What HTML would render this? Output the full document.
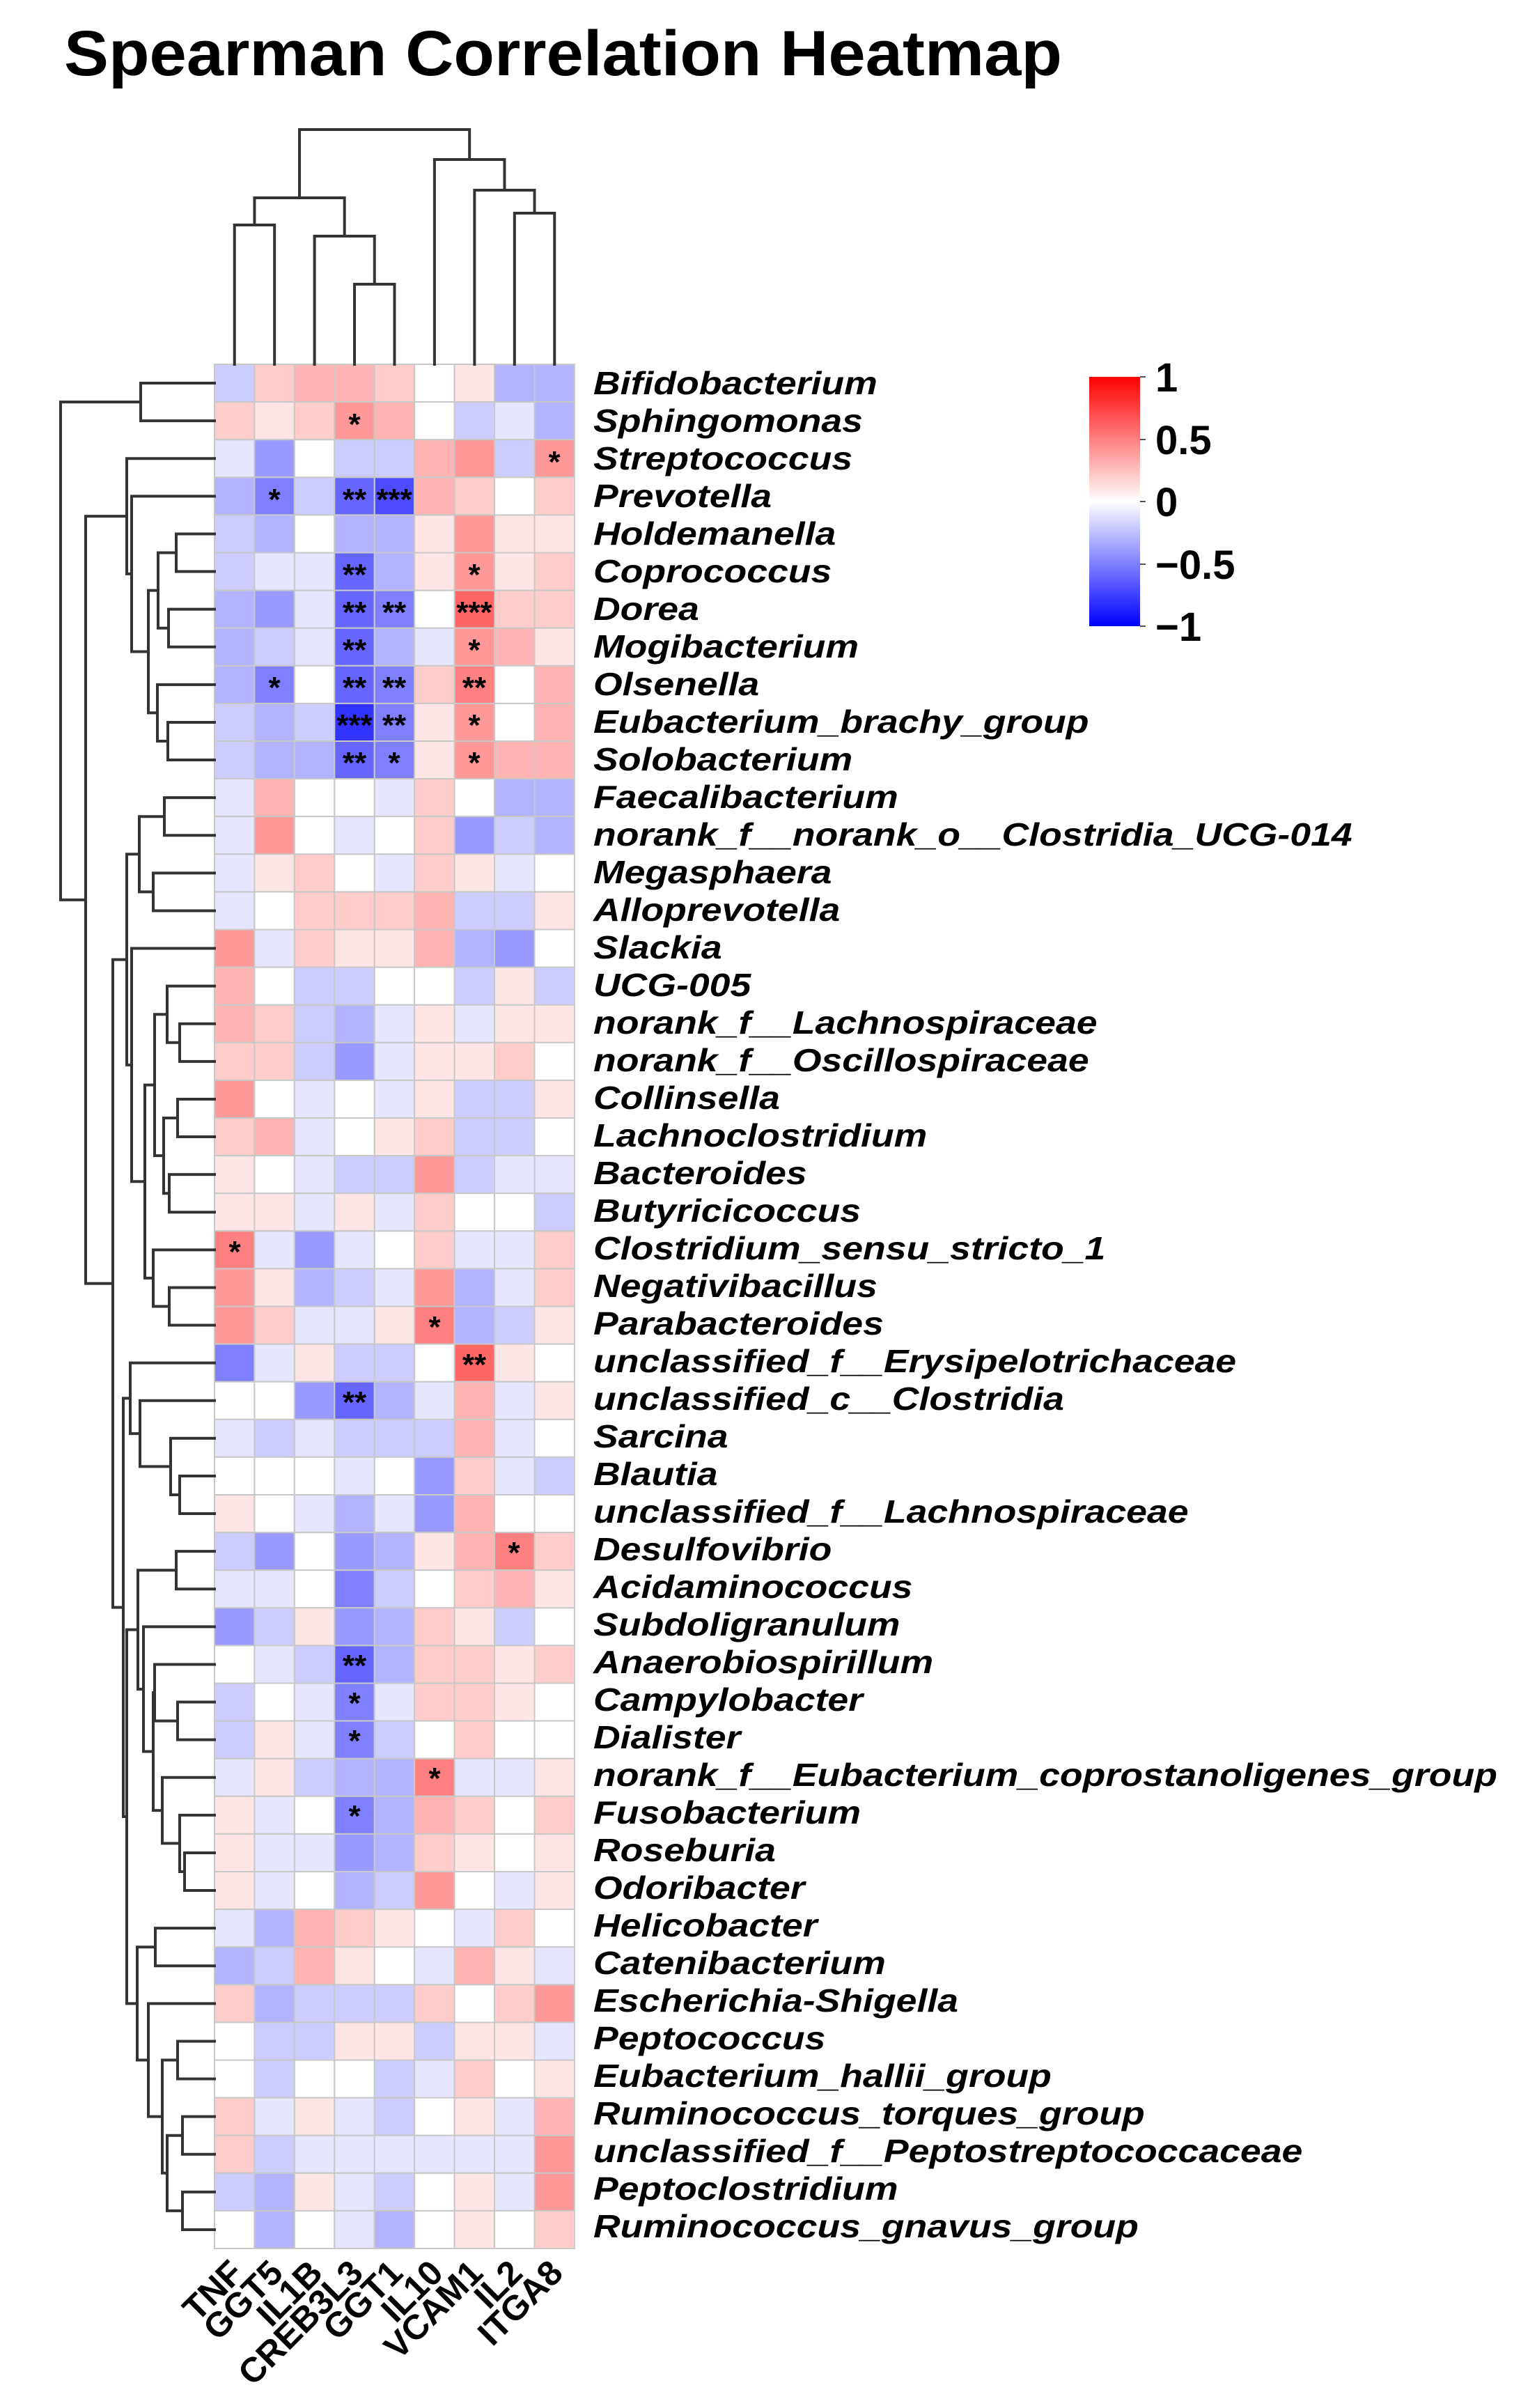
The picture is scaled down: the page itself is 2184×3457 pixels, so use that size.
<!DOCTYPE html>
<html><head><meta charset="utf-8">
<style>
html,body{margin:0;padding:0;background:#fff;}
svg{display:block;}
text{font-family:"Liberation Sans",Arial,sans-serif;}
.rl{font-size:46px;font-weight:bold;font-style:italic;fill:#000;}
.cl{font-size:50px;font-weight:bold;fill:#000;}
.st{font-size:44px;font-weight:bold;fill:#000;text-anchor:middle;}
.lg{font-size:58px;font-weight:bold;fill:#000;}
</style></head>
<body>
<svg id="s" width="2184" height="3457" viewBox="0 0 2184 3457" xmlns="http://www.w3.org/2000/svg">
<defs>
<linearGradient id="g" x1="0" y1="0" x2="0" y2="1">
<stop offset="0" stop-color="#ff0000"/><stop offset="0.5" stop-color="#ffffff"/><stop offset="1" stop-color="#0000ff"/>
</linearGradient>
</defs>
<text x="92" y="108" font-size="92" font-weight="bold" textLength="1433" lengthAdjust="spacingAndGlyphs">Spearman Correlation Heatmap</text>
<g id="cells"></g>
<g id="dend" stroke="#333" stroke-width="4" fill="none" stroke-linecap="square"></g>
<g id="labels" transform="translate(852,0) scale(1.165,1)">
<text class="rl" x="0" y="566">Bifidobacterium</text>
<text class="rl" x="0" y="620">Sphingomonas</text>
<text class="rl" x="0" y="674">Streptococcus</text>
<text class="rl" x="0" y="728">Prevotella</text>
<text class="rl" x="0" y="782">Holdemanella</text>
<text class="rl" x="0" y="836">Coprococcus</text>
<text class="rl" x="0" y="890">Dorea</text>
<text class="rl" x="0" y="944">Mogibacterium</text>
<text class="rl" x="0" y="998">Olsenella</text>
<text class="rl" x="0" y="1052">Eubacterium_brachy_group</text>
<text class="rl" x="0" y="1106">Solobacterium</text>
<text class="rl" x="0" y="1160">Faecalibacterium</text>
<text class="rl" x="0" y="1214">norank_f__norank_o__Clostridia_UCG-014</text>
<text class="rl" x="0" y="1268">Megasphaera</text>
<text class="rl" x="0" y="1322">Alloprevotella</text>
<text class="rl" x="0" y="1376">Slackia</text>
<text class="rl" x="0" y="1430">UCG-005</text>
<text class="rl" x="0" y="1484">norank_f__Lachnospiraceae</text>
<text class="rl" x="0" y="1538">norank_f__Oscillospiraceae</text>
<text class="rl" x="0" y="1592">Collinsella</text>
<text class="rl" x="0" y="1646">Lachnoclostridium</text>
<text class="rl" x="0" y="1700">Bacteroides</text>
<text class="rl" x="0" y="1754">Butyricicoccus</text>
<text class="rl" x="0" y="1808">Clostridium_sensu_stricto_1</text>
<text class="rl" x="0" y="1862">Negativibacillus</text>
<text class="rl" x="0" y="1916">Parabacteroides</text>
<text class="rl" x="0" y="1970">unclassified_f__Erysipelotrichaceae</text>
<text class="rl" x="0" y="2024">unclassified_c__Clostridia</text>
<text class="rl" x="0" y="2078">Sarcina</text>
<text class="rl" x="0" y="2132">Blautia</text>
<text class="rl" x="0" y="2186">unclassified_f__Lachnospiraceae</text>
<text class="rl" x="0" y="2240">Desulfovibrio</text>
<text class="rl" x="0" y="2294">Acidaminococcus</text>
<text class="rl" x="0" y="2348">Subdoligranulum</text>
<text class="rl" x="0" y="2402">Anaerobiospirillum</text>
<text class="rl" x="0" y="2456">Campylobacter</text>
<text class="rl" x="0" y="2510">Dialister</text>
<text class="rl" x="0" y="2564">norank_f__Eubacterium_coprostanoligenes_group</text>
<text class="rl" x="0" y="2618">Fusobacterium</text>
<text class="rl" x="0" y="2672">Roseburia</text>
<text class="rl" x="0" y="2726">Odoribacter</text>
<text class="rl" x="0" y="2780">Helicobacter</text>
<text class="rl" x="0" y="2834">Catenibacterium</text>
<text class="rl" x="0" y="2888">Escherichia-Shigella</text>
<text class="rl" x="0" y="2942">Peptococcus</text>
<text class="rl" x="0" y="2996">Eubacterium_hallii_group</text>
<text class="rl" x="0" y="3050">Ruminococcus_torques_group</text>
<text class="rl" x="0" y="3104">unclassified_f__Peptostreptococcaceae</text>
<text class="rl" x="0" y="3158">Peptoclostridium</text>
<text class="rl" x="0" y="3212">Ruminococcus_gnavus_group</text>
</g>
<g id="collabels">
<text class="cl" text-anchor="end" transform="translate(352,3266) rotate(-45)">TNF</text>
<text class="cl" text-anchor="end" transform="translate(409,3266) rotate(-45)">GGT5</text>
<text class="cl" text-anchor="end" transform="translate(466,3266) rotate(-45)">IL1B</text>
<text class="cl" text-anchor="end" transform="translate(524,3266) rotate(-45)">CREB3L3</text>
<text class="cl" text-anchor="end" transform="translate(581,3266) rotate(-45)">GGT1</text>
<text class="cl" text-anchor="end" transform="translate(639,3266) rotate(-45)">IL10</text>
<text class="cl" text-anchor="end" transform="translate(696,3266) rotate(-45)">VCAM1</text>
<text class="cl" text-anchor="end" transform="translate(753,3266) rotate(-45)">IL2</text>
<text class="cl" text-anchor="end" transform="translate(811,3266) rotate(-45)">ITGA8</text>
</g>
<g id="stars">
<text class="st" x="509" y="624">*</text>
<text class="st" x="796" y="678">*</text>
<text class="st" x="394" y="732">*</text>
<text class="st" x="509" y="732">**</text>
<text class="st" x="566" y="732">***</text>
<text class="st" x="509" y="840">**</text>
<text class="st" x="681" y="840">*</text>
<text class="st" x="509" y="894">**</text>
<text class="st" x="566" y="894">**</text>
<text class="st" x="681" y="894">***</text>
<text class="st" x="509" y="948">**</text>
<text class="st" x="681" y="948">*</text>
<text class="st" x="394" y="1002">*</text>
<text class="st" x="509" y="1002">**</text>
<text class="st" x="566" y="1002">**</text>
<text class="st" x="681" y="1002">**</text>
<text class="st" x="509" y="1056">***</text>
<text class="st" x="566" y="1056">**</text>
<text class="st" x="681" y="1056">*</text>
<text class="st" x="509" y="1110">**</text>
<text class="st" x="566" y="1110">*</text>
<text class="st" x="681" y="1110">*</text>
<text class="st" x="337" y="1812">*</text>
<text class="st" x="624" y="1920">*</text>
<text class="st" x="681" y="1974">**</text>
<text class="st" x="509" y="2028">**</text>
<text class="st" x="738" y="2244">*</text>
<text class="st" x="509" y="2406">**</text>
<text class="st" x="509" y="2460">*</text>
<text class="st" x="509" y="2514">*</text>
<text class="st" x="624" y="2568">*</text>
<text class="st" x="509" y="2622">*</text>
</g>
<g id="legend">
<rect x="1564" y="541" width="73" height="358" fill="url(#g)"/>
<g stroke="#555" stroke-width="2"><line x1="1637" y1="541" x2="1645" y2="541"/><line x1="1637" y1="631" x2="1645" y2="631"/><line x1="1637" y1="720" x2="1645" y2="720"/><line x1="1637" y1="810" x2="1645" y2="810"/><line x1="1637" y1="899" x2="1645" y2="899"/></g>
<text class="lg" x="1659" y="562">1</text>
<text class="lg" x="1659" y="652">0.5</text>
<text class="lg" x="1659" y="741">0</text>
<text class="lg" x="1659" y="831">−0.5</text>
<text class="lg" x="1659" y="920">−1</text>
</g>
</svg>
<script>
(function(){
var V=[
[-2,2,3,3,2,0,1,-3,-3],
[2,1,2,4,3,0,-2,-1,-3],
[-1,-4,0,-2,-2,3,4,-2,4],
[-3,-5,-2,-6,-7,3,2,0,2],
[-2,-3,0,-3,-3,1,4,1,1],
[-2,-1,-1,-6,-3,1,4,1,2],
[-3,-4,-1,-6,-5,0,6,2,2],
[-3,-2,-1,-6,-3,-1,4,3,1],
[-3,-5,0,-6,-5,2,5,0,3],
[-2,-3,-2,-8,-5,1,4,0,3],
[-2,-3,-3,-6,-5,1,4,3,3],
[-1,3,0,0,-1,2,0,-3,-3],
[-1,4,0,-1,0,2,-4,-2,-3],
[-1,1,2,0,-1,2,1,-1,0],
[-1,0,2,2,2,3,-2,-2,1],
[4,-1,2,1,1,3,-3,-4,0],
[3,0,-2,-2,0,0,-2,1,-2],
[3,2,-2,-3,-1,1,-1,1,1],
[2,2,-2,-4,-1,1,1,2,0],
[4,0,-1,0,-1,1,-2,-2,1],
[2,3,-1,0,1,2,-2,-2,0],
[1,0,-1,-2,-2,4,-2,-1,-1],
[1,1,-1,1,-1,2,0,0,-2],
[5,-1,-4,-1,0,2,-1,-1,2],
[4,1,-3,-2,-1,4,-3,-1,2],
[4,2,-1,-1,1,5,-3,-2,1],
[-5,-1,1,-2,-2,0,6,1,0],
[0,0,-4,-6,-3,-1,3,-1,1],
[-1,-2,-1,-2,-2,-2,3,-1,0],
[0,0,0,-1,0,-4,2,-1,-2],
[1,0,-1,-3,-1,-4,3,0,0],
[-2,-4,0,-4,-3,1,3,5,2],
[-1,-1,0,-5,-2,0,2,3,1],
[-4,-2,1,-4,-3,2,1,-2,0],
[0,-1,-2,-6,-3,2,2,1,2],
[-2,0,-1,-5,-1,2,2,1,0],
[-2,1,-1,-5,-2,0,2,0,0],
[-1,1,-2,-3,-3,5,-1,-1,1],
[1,-1,0,-5,-3,3,2,0,2],
[1,-1,-1,-4,-3,2,1,0,1],
[1,-1,0,-3,-2,4,0,-1,1],
[-1,-3,3,2,1,0,-1,2,0],
[-3,-2,3,1,0,-1,3,1,-1],
[2,-3,-2,-2,-2,2,0,2,4],
[0,-2,-2,1,1,-2,1,1,-1],
[0,-2,0,0,-2,-1,2,0,1],
[2,-1,1,-1,-2,0,1,-1,3],
[2,-2,-1,-1,-1,-1,-1,-1,4],
[-2,-3,1,-1,-2,0,1,-1,4],
[0,-3,0,-1,-3,0,1,0,2]];
var X0=308,Y0=523,CW=57.44,RH=54.1,NS="http://www.w3.org/2000/svg";
function col(v){v=v/10;var k=Math.round(255*(1-Math.abs(v)));return v>=0?"rgb(255,"+k+","+k+")":"rgb("+k+","+k+",255)";}
var g=document.getElementById("cells"),h="";
for(var r=0;r<50;r++)for(var c=0;c<9;c++){
h+='<rect x="'+(X0+c*CW).toFixed(1)+'" y="'+(Y0+r*RH).toFixed(1)+'" width="'+CW.toFixed(1)+'" height="'+RH.toFixed(1)+'" fill="'+col(V[r][c])+'" stroke="#c8c8c8" stroke-width="2"/>';}
g.innerHTML=h;
var d=document.getElementById("dend"),p="";
function rowN(n){if(typeof n==="number")return{y:Y0+RH*(n-0.5),x:X0};
var a=rowN(n[1]),b=rowN(n[2]),x=n[0];
p+="M"+a.x+" "+a.y+"H"+x+"V"+b.y+"H"+b.x;return{y:(a.y+b.y)/2,x:x};}
function colN(n){if(typeof n==="number")return{x:X0+CW*(n+0.5),y:Y0};
var a=colN(n[1]),b=colN(n[2]),y=n[0];
p+="M"+a.x+" "+a.y+"V"+y+"H"+b.x+"V"+b.y;return{x:(a.x+b.x)/2,y:y};}
var T311=[182,3,[189,4,[213,[227,[253,5,6],[242,7,8]],[226,9,[241,10,11]]]]];
var U=[182,[200,[236,12,13],[220,14,15]],[189,16,[208,[222,[240,17,[258,18,19]],[235,[255,20,21],[243,22,23]]],[220,24,[243,25,26]]]]];
var D=[187,27,[201,28,[245,29,[258,30,31]]]];
var F=[198,[253,32,33],[206,34,[220,[222,35,[255,36,37]],[233,38,[258,39,[265,40,41]]]]]];
var G=[197,[223,42,43],[213,44,[233,[255,45,46],[240,[262,47,48],[262,49,50]]]]];
var R=[87,[202,1,2],[123,T311,[162,U,[177,D,[182,F,G]]]]];
rowN(R);
colN([186,[284,[323,0,1],[339,2,[408,3,4]]],[229,5,[273,6,[306,7,8]]]]);
var pe=document.createElementNS(NS,"path");pe.setAttribute("d",p);d.appendChild(pe);
})();
</script>
</body></html>
